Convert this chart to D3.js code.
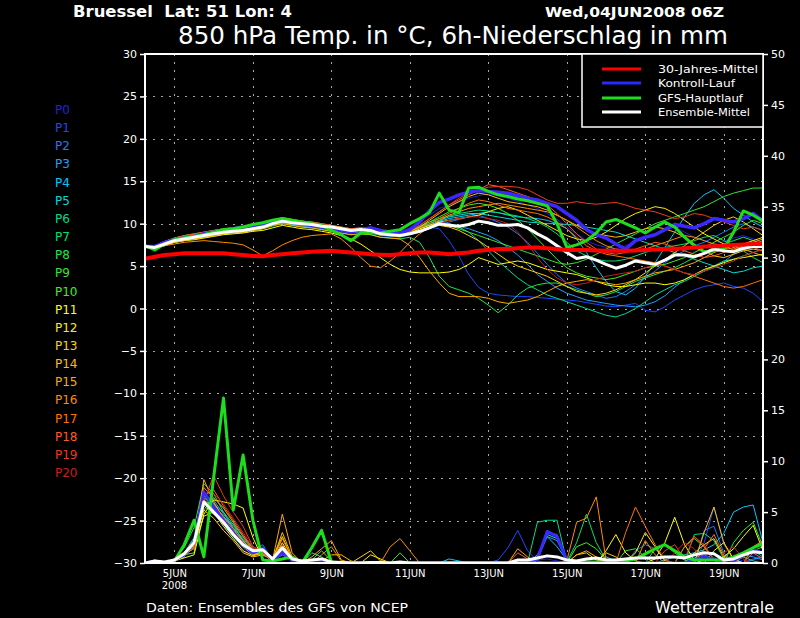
<!DOCTYPE html>
<html>
<head>
<meta charset="utf-8">
<script src="https://cdn.jsdelivr.net/npm/d3@7"></script>
<style>
  body { margin: 0; background: #000; }
  svg { display: block; }
  text { font-family: "DejaVu Sans", sans-serif; fill: #fff; white-space: pre; }
</style>
</head>
<body>
<svg id="chart" width="800" height="618"></svg>
<script>
// run start and 6h steps
var startTime = Date.UTC(2008, 5, 4, 6);
var stepHours = 6;

var tickDays = [5, 7, 9, 11, 13, 15, 17, 19];
var tickLabels = ["5JUN", "7JUN", "9JUN", "11JUN", "13JUN", "15JUN", "17JUN", "19JUN"];
var tempTicks = [-30, -25, -20, -15, -10, -5, 0, 5, 10, 15, 20, 25, 30];
var precTicks = [0, 5, 10, 15, 20, 25, 30, 35, 40, 45, 50];

var memberNames = ["P0","P1","P2","P3","P4","P5","P6","P7","P8","P9","P10",
  "P11","P12","P13","P14","P15","P16","P17","P18","P19","P20"];
var memberColors = ["#2020e0","#1e46ff","#1e78ff","#1ea0ff","#00c8ff","#00dcd2","#00dc8c",
  "#00e070","#1ee650","#32e632","#3cf01e","#ffff00","#ffeb00","#ffd200","#ffbe00",
  "#ffaa00","#ff8c00","#ff7300","#ff5a28","#eb3c1e","#c81e1e"];

// 850 hPa temperature, degC
var climTemp = [5.85,6.1,6.3,6.4,6.5,6.5,6.5,6.5,6.5,6.4,
  6.3,6.2,6.15,6.3,6.4,6.5,6.6,6.7,6.75,6.8,
  6.7,6.6,6.5,6.4,6.35,6.3,6.4,6.5,6.6,6.6,
  6.5,6.4,6.5,6.6,6.8,6.9,7.0,7.0,7.1,7.2,
  7.2,7.1,7.0,6.9,6.9,6.9,6.85,6.8,6.8,6.8,
  6.85,6.9,6.95,7.0,7.05,7.1,7.2,7.3,7.35,7.4,
  7.5,7.55,7.6,7.6];
var meanTemp = [7.3,7.2,7.6,8.0,8.2,8.4,8.6,8.8,9.0,9.1,
  9.2,9.4,9.6,10.0,10.3,10.1,10.0,9.9,9.7,9.6,
  9.4,9.2,9.3,9.2,8.8,8.7,8.6,8.8,9.1,9.5,
  10.0,9.8,9.7,9.9,10.3,10.1,9.8,9.8,9.9,9.5,
  8.8,8.2,7.4,6.6,5.9,6.1,5.7,5.2,4.75,5.1,
  5.6,5.4,5.2,5.7,6.3,6.3,6.1,6.5,7.0,6.8,
  6.7,7.1,7.3,7.3];
var controlTemp = [7.3,7.3,7.8,8.1,8.3,8.5,8.8,9.0,9.2,9.4,
  9.6,9.7,9.9,10.3,10.5,10.2,10.0,9.8,9.6,9.4,
  9.2,9.0,9.3,9.5,9.2,9.0,8.9,9.3,10.2,11.5,
  12.5,12.9,13.4,13.7,13.9,13.8,13.7,13.6,13.3,13.0,
  12.8,12.4,12.0,11.2,10.4,9.3,8.7,8.3,7.6,7.0,
  8.0,8.4,8.7,9.3,9.9,9.7,9.5,10.0,10.6,10.4,
  10.2,10.6,11.2,10.3];
var gfsTemp = [7.4,6.9,7.6,8.1,8.3,8.5,8.7,9.0,9.3,9.4,
  9.6,9.9,10.1,10.4,10.6,10.4,10.2,10.0,9.8,9.2,
  8.7,8.0,8.9,8.9,8.9,9.1,9.3,10.0,10.6,11.3,
  13.6,11.6,11.3,14.2,14.3,13.8,13.4,13.2,12.9,12.7,
  12.4,12.1,10.0,7.2,7.5,8.0,8.9,10.2,10.5,10.0,
  9.5,8.9,9.6,10.2,9.6,8.4,7.4,6.7,6.8,7.0,
  9.0,11.5,11.0,10.3];

var memberTemps = [
  [7.3,7.4,7.9,8.2,8.5,8.7,8.9,9.1,9.3,9.4, 9.5,9.7,9.9,10.2,10.5,10.4,10.2,10.1,9.9,9.7,
   9.5,9.3,9.4,9.6,9.3,9.1,9.0,9.5,10.3,11.0, 11.8,12.2,12.6,13.0,13.3,13.5,13.3,13.0,12.6,12.2,
   11.8,11.2,10.5,9.6,8.8,8.0,7.5,7.2,7.0,7.4, 7.9,8.3,8.8,9.2,9.6,9.0,8.4,8.0,7.6,7.9, 8.3,8.6,8.2,7.8],
  [7.3,7.2,7.5,7.9,8.1,8.3,8.5,8.7,8.9,9.0, 9.1,9.3,9.5,9.9,10.1,10.0,9.8,9.7,9.5,9.3,
   9.2,9.0,9.1,9.0,8.7,8.6,8.5,8.8,9.2,9.6, 9.4,8.0,6.2,4.0,2.5,1.8,1.6,1.5,1.4,1.4,
   1.3,1.2,1.1,1.0,0.9,0.7,0.5,0.3,0.2,0.4, 0.6,-0.2,-0.4,0.2,1.0,1.6,2.2,2.6,2.8,3.0, 2.6,2.4,1.8,0.8],
  [7.3,7.1,7.4,7.8,8.0,8.2,8.4,8.6,8.8,8.9, 9.0,9.2,9.4,9.8,10.1,9.9,9.7,9.6,9.4,9.2,
   9.1,8.9,9.0,8.9,8.6,8.5,8.4,8.7,9.0,9.4, 9.8,10.2,10.5,10.8,11.0,10.6,10.2,9.6,8.8,7.8,
   6.5,5.2,4.0,3.0,2.4,2.0,1.6,1.2,1.4,2.0, 2.8,3.6,4.4,5.4,6.2,6.8,7.4,7.8,8.4,9.0, 9.6,10.0,9.6,9.2],
  [7.3,7.3,7.7,8.1,8.3,8.5,8.7,8.9,9.1,9.2, 9.3,9.5,9.7,10.1,10.4,10.2,10.1,10.0,9.8,9.6,
   9.4,9.2,9.3,9.2,8.9,8.8,8.7,9.0,9.5,9.9, 10.2,10.0,9.7,9.4,9.0,8.6,8.0,7.2,6.3,5.2,
   4.0,3.2,2.4,1.8,1.4,1.0,0.8,0.6,0.4,0.3, 0.2,0.4,0.8,1.5,2.5,3.4,4.0,4.4,4.8,5.5, 6.4,7.0,7.6,8.0],
  [7.3,7.2,7.6,8.0,8.3,8.5,8.7,8.9,9.1,9.2, 9.3,9.5,9.7,10.1,10.3,10.2,10.0,9.9,9.7,9.6,
   9.4,9.2,9.3,9.1,8.8,8.7,8.6,8.9,9.4,9.8, 10.3,10.6,10.8,11.0,11.2,11.4,11.3,11.0,10.8,10.7,
   10.6,10.4,10.0,9.4,8.2,6.6,4.8,3.2,2.0,1.6, 2.4,3.8,5.4,7.2,9.0,10.8,12.4,13.4,14.0,13.0, 11.8,11.0,10.2,9.6],
  [7.3,7.3,7.8,8.1,8.4,8.6,8.8,9.0,9.2,9.3, 9.4,9.6,9.8,10.2,10.4,10.3,10.1,10.0,9.9,9.7,
   9.5,9.3,9.4,9.3,9.0,8.9,8.8,9.1,9.6,10.0, 10.4,10.8,11.0,11.2,11.2,11.0,10.8,10.6,10.4,10.2,
   10.1,10.0,10.0,9.9,9.8,9.6,9.4,9.2,9.0,8.6, 8.2,7.8,7.4,7.0,6.6,6.2,5.8,5.4,5.0,4.6, 4.2,4.4,4.8,5.0],
  [7.3,7.2,7.5,7.9,8.1,8.3,8.5,8.7,8.9,9.0, 9.1,9.3,9.5,9.9,10.2,10.0,9.8,9.7,9.5,9.4,
   9.2,9.0,9.1,9.0,8.7,8.6,8.5,8.8,9.2,9.6, 9.9,10.0,9.6,9.0,8.0,6.8,5.6,4.6,3.6,2.8,
   2.2,1.6,1.2,0.8,0.4,0.0,-0.4,-0.8,-1.0,-0.6, 0.0,0.8,1.6,2.2,2.8,3.2,3.8,4.4,5.0,5.6, 5.8,6.2,6.6,7.0],
  [7.3,7.4,7.9,8.3,8.6,8.8,9.0,9.2,9.4,9.5, 9.6,9.8,10.0,10.4,10.7,10.5,10.3,10.2,10.0,9.8,
   9.6,9.4,9.5,9.4,9.1,9.0,8.9,9.2,9.7,10.2, 10.6,10.9,11.2,11.4,11.6,11.5,11.3,11.1,10.9,10.6,
   10.2,9.6,8.8,7.8,6.8,6.2,5.8,5.6,5.6,5.8, 6.2,6.6,7.0,7.2,7.4,7.6,8.0,8.4,8.6,8.0, 7.4,6.8,6.0,5.4],
  [7.3,7.1,7.4,7.8,8.0,8.2,8.4,8.6,8.8,8.9, 9.0,9.2,9.4,9.7,10.0,9.8,9.6,9.5,9.3,9.1,
   8.9,8.7,8.8,8.7,8.4,8.3,8.2,8.4,7.8,6.0, 3.8,2.6,2.2,1.8,1.2,0.4,-0.5,0.4,1.6,2.4,
   2.8,3.0,3.0,2.6,2.2,1.8,1.4,1.6,2.0,2.6, 3.2,3.6,4.0,4.4,4.8,5.4,6.0,6.6,7.2,7.6, 8.0,8.4,8.0,7.6],
  [7.3,7.3,7.7,8.1,8.4,8.6,8.8,9.0,9.2,9.3, 9.4,9.6,9.8,10.2,10.5,10.3,10.1,10.0,9.8,9.6,
   9.4,9.2,9.3,9.2,8.9,8.8,8.7,9.0,9.4,9.8, 10.0,9.8,9.4,9.0,8.6,8.2,7.8,7.4,7.0,6.6,
   6.2,5.8,5.4,5.2,5.4,5.8,6.4,7.0,7.6,8.2, 8.8,9.4,10.0,10.4,10.8,11.2,11.6,12.0,12.6,13.2, 13.6,13.9,14.2,14.2],
  [7.3,7.4,7.8,8.2,8.5,8.7,8.9,9.1,9.3,9.4, 9.5,9.7,9.9,10.3,10.6,10.4,10.2,10.1,9.9,9.7,
   9.5,9.3,9.4,9.3,9.0,8.9,8.8,9.1,9.6,10.2, 10.8,11.4,11.8,12.2,12.4,12.2,11.8,11.2,10.4,9.4,
   8.2,7.0,5.8,4.8,4.2,3.8,3.6,3.4,3.6,4.0, 4.4,4.8,5.0,5.2,5.6,6.0,6.6,7.2,7.8,8.4, 9.0,9.8,10.4,10.0],
  [7.3,7.2,7.5,7.8,8.0,8.1,8.3,8.5,8.7,8.8, 8.9,9.1,9.2,9.5,9.8,9.6,9.4,9.3,9.1,8.9,
   8.6,8.2,7.6,6.8,6.0,5.2,4.6,4.3,4.2,4.2, 4.2,4.3,4.6,5.2,6.0,5.6,5.2,5.4,5.6,5.4,
   5.0,4.6,4.4,4.2,4.0,3.6,3.2,2.8,2.6,2.6, 2.8,3.0,3.0,2.8,3.0,3.4,4.0,4.6,5.0,5.4, 5.8,6.0,6.2,6.4],
  [7.3,7.3,7.7,8.1,8.3,8.5,8.7,8.9,9.1,9.2, 9.3,9.5,9.7,10.1,10.4,10.2,10.0,9.9,9.7,9.5,
   9.3,9.1,9.2,9.1,8.8,8.7,8.6,8.9,9.4,9.8, 10.2,10.4,10.6,10.8,11.0,11.4,11.8,12.0,11.6,11.0,
   10.4,9.8,9.2,8.6,8.2,8.0,8.4,9.0,9.8,10.6, 11.2,11.6,12.0,11.8,11.2,10.4,9.6,8.8,8.2,7.6, 7.2,7.6,8.0,8.4],
  [7.3,7.2,7.6,8.0,8.2,8.4,8.6,8.8,9.0,9.1, 9.2,9.4,9.6,10.0,10.3,10.1,9.9,9.8,9.6,9.4,
   9.2,9.0,9.1,9.0,8.7,8.6,8.5,8.8,9.2,9.6, 9.8,9.6,9.2,8.6,8.0,7.2,6.4,5.6,5.0,4.6,
   4.2,3.8,3.2,2.6,2.0,1.8,1.6,1.8,2.2,2.8, 3.4,4.2,5.0,5.8,6.6,7.4,8.2,9.0,9.8,10.4, 10.8,10.2,9.4,8.6],
  [7.3,7.4,7.9,8.3,8.5,8.7,8.9,9.1,9.3,9.4, 9.5,9.7,9.9,10.3,10.6,10.4,10.2,10.1,9.9,9.7,
   9.5,9.3,9.4,9.3,9.0,8.9,8.8,9.1,9.6,10.4, 11.2,12.0,12.6,13.2,13.6,13.4,13.0,12.6,12.4,12.2,
   12.0,11.6,11.0,10.4,9.8,9.2,8.8,8.6,8.4,8.6, 9.0,9.4,9.6,9.4,9.0,8.4,7.6,6.8,6.2,6.0, 6.4,6.8,7.0,6.8],
  [7.3,7.1,7.4,7.8,8.0,8.2,8.4,8.6,8.8,8.9, 9.0,9.2,9.4,9.8,10.0,9.8,9.6,9.5,9.3,9.1,
   8.9,8.7,8.8,8.7,8.4,8.3,8.2,7.4,6.0,4.4, 3.0,1.8,1.4,1.4,1.4,1.2,0.8,0.6,0.8,1.0,
   1.4,2.0,2.6,3.0,3.2,3.4,3.2,3.0,2.8,3.0, 3.4,3.8,4.2,4.4,4.6,5.0,5.4,6.0,6.6,7.0, 7.4,7.0,6.6,6.2],
  [7.3,7.2,7.4,7.6,7.8,7.9,8.0,7.9,7.8,7.7, 7.5,6.9,6.2,6.8,7.5,8.0,8.4,8.6,8.7,8.8,
   8.2,7.2,6.0,5.0,4.8,5.6,6.6,7.8,8.8,9.6, 10.4,11.0,11.4,11.8,12.0,12.2,12.4,12.2,12.0,11.8,
   11.6,11.4,11.0,10.4,9.6,8.8,8.0,7.4,7.0,6.8, 6.8,7.0,7.4,7.8,8.2,8.6,8.4,8.0,7.6,7.2, 7.0,7.4,7.8,8.2],
  [7.3,7.3,7.7,8.1,8.4,8.6,8.8,9.0,9.2,9.3, 9.4,9.6,9.8,10.2,10.5,10.3,10.1,10.0,9.8,9.6,
   9.4,9.2,9.3,9.2,8.9,8.8,8.7,9.0,9.5,10.0, 10.6,11.2,11.8,12.4,12.8,12.6,12.2,11.8,11.6,11.4,
   11.2,10.8,10.2,9.4,8.4,7.4,6.8,6.4,6.2,6.0, 5.8,5.6,5.4,5.0,4.6,4.2,3.8,3.4,3.0,2.6, 2.4,2.6,3.0,3.4],
  [7.3,7.4,7.9,8.3,8.6,8.8,9.0,9.2,9.4,9.5, 9.6,9.8,10.0,10.4,10.7,10.5,10.3,10.2,10.0,9.8,
   9.6,9.4,9.5,9.4,9.1,9.0,8.9,9.2,9.8,10.6, 11.4,12.2,12.8,13.4,14.0,14.6,14.4,14.0,13.6,13.2,
   12.8,12.2,11.2,10.0,8.8,7.8,7.0,6.6,6.4,6.6, 7.0,7.4,7.8,7.6,7.2,6.8,6.4,6.0,6.2,6.6, 7.0,7.4,7.2,6.8],
  [7.3,7.3,7.8,8.2,8.5,8.7,8.9,9.1,9.3,9.4, 9.5,9.7,9.9,10.3,10.6,10.4,10.2,10.1,9.9,9.7,
   9.5,9.3,9.4,9.3,9.0,8.9,8.8,9.2,9.8,10.6, 11.4,12.2,13.0,13.6,14.0,14.3,14.4,14.4,14.3,14.0,
   13.4,12.8,12.4,12.4,12.6,12.4,12.3,12.4,12.5,12.2, 11.8,11.6,11.4,11.0,10.6,10.8,11.2,11.0,10.6,10.2, 9.8,9.4,9.6,9.2],
  [7.3,7.2,7.6,8.0,8.2,8.4,8.6,8.8,9.0,9.1, 9.2,9.4,9.6,10.0,10.3,10.1,9.9,9.8,9.6,9.4,
   9.2,9.0,9.1,9.0,8.7,8.6,8.5,8.8,9.2,9.6, 10.0,10.4,10.6,10.8,10.8,10.6,10.4,10.0,9.0,7.6,
   6.0,4.6,3.6,3.0,2.8,3.0,3.4,3.8,4.0,4.2, 4.4,4.8,5.2,5.0,4.6,4.2,4.0,4.4,4.8,5.2, 5.6,6.2,6.6,7.0]
];

// 6h precipitation, mm
var meanPrec = [0,0.2,0.1,0.3,0.9,2.0,6.0,5.0,4.0,2.8,1.8,1.2,1.3,0.4,1.5,0.4,
  0.2,0.3,0.4,0.1,0.05,0,0,0.05,0.05,0,0.1,0,0,0,0,0,
  0,0,0,0,0,0,0.3,0.3,0.5,0.7,0.6,0.3,0.2,0.4,0.5,0.3,
  0.3,0.4,0.5,0.5,0.5,0.6,0.6,0.5,0.8,1.0,0.9,0.3,0.4,0.8,1.1,1.0];
var controlPrec = [0,0.2,0,0.3,0.8,2.0,7.0,5.5,4.2,3.0,1.8,1.0,1.4,0.3,1.0,0.2,
  0,0,0.2,0,0,0,0,0,0,0,0,0,0,0,0,0,
  0,0,0,0,0,0,0,0,0.4,3.1,2.6,0.3,0,0,0,0,
  0,0,0,0,0,0,0,0,0.3,0.6,0.4,0,0.2,0.8,1.3,1.0];
var gfsPrec = [0,0,0,0.2,1.8,4.2,0.6,8.4,16.2,5.2,10.6,4.2,0.3,0.2,0.4,0.6,
  0,1.5,3.2,0.1,0,0,0,0,0,0,0,0,0,0,0,0,
  0,0,0,0,0,0,0,0,0,0,0,0,0.1,0.1,0.1,0.1,
  0.1,0.2,0.4,0.9,1.4,1.8,1.2,0.6,0.3,0.3,0.3,0.3,0.6,1.0,1.5,1.9];

var memberPrecs = [
  [0,0.2,0,0.3,0.7,1.5,7.5,6.0,4.2,2.6,1.4,0.9,1.0,0.2,0.8,0.2, 0,0.1,0.3,0,0,0,0,0,0,0,0,0,0,0,0,0,
   0,0,0,0,0,0,0,0,0.3,0.4,0.2,0,0,0,0,0, 0,0,0,0,0,0,0,0,0.4,0.6,0.3,0,0,0.3,0.8,0.5],
  [0,0.1,0,0.2,0.6,1.8,7.0,5.2,3.6,2.4,1.2,0.8,1.6,0.3,1.0,0.2, 0,0,0.2,0,0,0,0,0,0,0,0,0,0,0,0,0,
   0,0,0,0,0.3,1.5,3.2,1.2,0.2,0,0,0,0,0,0,0, 0,0,0,0,0,0,0,0,0,2.0,5.5,1.8,0.4,0,0.3,0.6],
  [0,0.2,0,0.3,0.9,2.2,6.4,5.6,4.6,3.2,2.0,1.2,1.8,0.3,1.6,0.3, 0,0.2,0.4,0,0,0,0,0,0,0,0,0,0,0,0,0,
   0,0,0,0,0,0,0,0,0.4,3.0,2.8,0.5,0,0,0,0, 0,0,1.2,1.8,1.4,0.3,0,0,0,3.2,3.6,1.0,0,0,0.4,0.6],
  [0,0.1,0,0.4,1.0,2.4,5.8,6.2,4.8,3.6,2.2,1.0,1.2,0.2,1.0,0.2, 0,0,0.3,0,0,0,0,0,0,0,0,0,0,0,0,0,
   0,0,0,0,0,0,0,0,0.3,2.6,2.2,0.3,0,0,0,0, 0,0,0,0,0,0,0,0,0.5,0.8,0.4,0,0,0.8,0.6,0.3],
  [0,0.2,0,0.3,0.8,2.0,6.6,5.4,4.4,3.8,2.6,1.4,1.0,0.2,1.2,0.2, 0,0.1,0.2,0,0,0,0,0,0,0,0,0,0,0,0,0.4,
   0.2,0,0,0,0,0,0,0,0.8,2.6,1.6,0.3,0,0,0,0, 0,0,0,0,0,0.3,0.6,0.8,1.0,1.3,1.8,2.9,5.0,5.5,5.7,2.0],
  [0,0.1,0,0.2,0.7,1.9,6.0,5.8,5.0,3.4,2.4,1.2,1.1,0.3,1.1,0.2, 0,0,0.2,0.1,0,0,0,0,0,0,0,0,0,0,0,0,
   0,0,0,0,0,0,0,0,0.5,2.8,2.4,0.4,0,0,0,0.6, 0.2,0,0,0,0,0,0,0,0,0,0,0,0.4,0.6,0.2,0],
  [0,0.3,0,0.3,0.9,2.1,5.2,6.4,5.4,4.0,2.6,1.6,1.2,0.3,1.3,0.3, 0,1.0,0.6,0,0,0,0,0,0,0,0,0,0,0,0,0,
   0,0,0,0,0,0,0,0,4.0,4.2,4.2,0.1,0,0,0,0, 0,0,0,0,0,0,0,0,0,0,0,0,0.3,0.8,1.2,0.6],
  [0,0.2,0,0.3,1.0,2.5,6.8,5.0,3.8,2.6,1.6,1.0,1.0,0.2,0.9,0.2, 0,0,0.3,0,0,0,0,0,0,0,0,0,0,0,0,0,
   0,0,0,0,0,0,0,0,0,0,0,0.1,2.0,4.8,2.0,0.3, 0,0,0,0,0,0,0,0,2.8,2.9,2.2,0.4,0,0,0,0],
  [0,0.2,0,0.4,1.5,3.5,7.8,6.8,5.0,3.8,2.2,1.0,1.0,0.3,0.8,0.2, 0,0,0.3,0,0,0,0,0,0,0,0,0,0,0,0,0,
   0,0,0,0,0,0,0,0,0,0,0,0,0,0,0,0, 0,0,0,0,1.4,1.8,1.0,0.3,0,0,0,0,2.0,3.2,4.0,1.6],
  [0,0.1,0,0.3,0.6,2.0,5.6,4.8,3.8,2.8,1.8,1.0,1.2,0.2,1.0,0.2, 0,0.3,1.2,0.2,0,0,0,0,0,0,1.0,0,0,0,0,0,
   0,0,0,0,0,0,0,0,0,0,0,0,0,0,0,0, 0,1.2,1.4,0.6,0,0,0,1.6,2.4,1.6,0.4,0,0,0,0,0],
  [0,0.2,0,0.3,0.8,1.0,6.0,5.2,4.2,3.0,1.8,1.0,1.1,0.3,1.5,0.3, 0,0,0.2,0,0,0,0,0,0,0,0,0,0,0,0,0,
   0,0,0,0,0,0,0,0,0,0,0,0,1.6,2.0,1.4,0.3, 0,0,0,0,0,0,0,0,0,0,0,0,0,0.6,1.2,1.6],
  [0,0.2,0,0.2,0.5,0.8,4.8,6.2,6.0,5.8,5.4,2.5,0.4,0.1,1.2,0.2, 0,0,0.2,0,0,0,0,0,0,0,0,0,0,0,0,0,
   0,0,0,0,0,0,0,0,0,0,0,0,0,0,0,1.2, 2.8,1.0,0.2,0,0.4,2.0,4.5,1.8,0.3,0,0,0.6,1.4,2.6,3.7,1.2],
  [0,0.1,0,0.3,0.7,1.6,4.6,5.0,3.6,2.4,1.2,0.7,1.0,0.2,2.0,0.3, 0,0,0.3,0,0,0,0,0.8,0.4,0,0,0,0,0,0,0,
   0,0,0,0,0,0,0,0,0,0,0,0,0,0,0,0, 0,0,1.0,3.0,1.6,0.2,0,0,0,0,1.2,2.0,0.4,0,0,0],
  [0,0.2,0,0.3,0.8,1.9,5.2,4.4,3.2,2.2,1.0,0.6,0.8,0.4,2.6,0.4, 0,0,0.2,0,0,0,0.6,1.2,0.2,0,0,0,0,0,0,0,
   0,0,0,0,0,0,0,0,0,0,0,0,0.8,1.0,0.3,0, 0,0,0,0,0,0,0,0,1.0,1.8,2.4,0.6,0,0,0,0],
  [0,0.2,0,0.3,0.9,1.4,6.2,5.4,4.2,2.8,1.6,0.8,1.0,0.3,3.0,0.6, 0,0,0.2,0.8,0.8,0.2,0,0,0,0,0,0,0,0,0,0,
   0,0,0,0,0,0,0,0,0,0,0,0,0,0,0,1.0, 0.6,0,0,0,0,0,0,0,0,3.0,5.5,2.0,0.3,0,0,0],
  [0,0.2,0,0.4,0.9,1.8,8.2,6.0,4.4,3.2,2.2,1.0,0.8,0.3,4.8,1.0, 0,0.6,1.4,2.2,0.3,0,0,0,0,0,0,0,0,0,0,0,
   0,0,0,0,0,0,1.4,0.6,0,0,0,0,0.8,1.2,0.6,0, 0,0,0,0,0,0,0,0,0,0,0,0,0,0,0,0],
  [0,0.1,0,0.3,0.8,1.7,7.0,5.8,4.6,3.4,2.0,1.0,0.9,0.2,2.4,0.4, 0,0,0.8,1.6,0.2,0,0,0,0,1.6,2.4,1.2,0,0,0,0,
   0,0,0,0,0,0,0,0,0,0,0,0.2,4.0,4.4,6.5,0.3, 0,0,0,2.2,0.8,0,0,0,0,0,0,0,0,0,1.6,2.2],
  [0,0.2,0,0.3,0.9,2.0,7.4,6.4,5.4,4.0,2.6,1.2,1.1,0.2,1.8,0.3, 0,0,0.3,0,0,0,0,0,0,0,0,0,0,0,0,0,
   0,0,0,0,0,0,0,0,0,0,0,0,0,0,0,0, 0,3.0,5.5,3.6,1.8,0.3,0,0,0,1.4,2.8,0.8,0,0,0,0],
  [0,0.2,0,0.3,1.0,2.2,6.6,7.2,5.6,4.2,2.8,1.4,1.2,0.3,1.0,0.2, 0,0,0.2,0,0,0,0,0,0,0,0,0,0,0,0,0,
   0,0,0,0,0,0,1.0,0.4,0,0,0,0,0,0,0,0, 0,0,0,0,0,0,0,1.6,2.6,1.6,0.3,0,0,0,1.0,0.4],
  [0,0.3,0,0.4,1.1,1.4,6.0,8.6,6.6,5.0,3.6,1.6,1.0,0.2,1.1,0.2, 0,0,0.3,0,0,0,0,0,0,0,0,0,0,0,0,0,
   0,0,0,0,0,0,0,0,0,0,0,0,0,0,0,0, 0,0,0,0,0,1.2,1.8,0.4,2.6,1.8,0.3,0,0,0,0,0],
  [0,0.2,0,0.3,0.8,2.0,5.6,6.8,5.8,4.4,3.0,1.6,1.1,0.3,1.2,0.2, 0,0,0.2,0,0,0,0,0,0,0,0,0,0,0,0,0,
   0,0,0,0,0,0,0,0,0,0,0,0,0,0,0,0, 0,0,0,0,0,0,1.0,2.0,1.4,0,0,1.0,1.6,0.4,0,0]
];

var legendItems = ["30-Jahres-Mittel", "Kontroll-Lauf", "GFS-Hauptlauf", "Ensemble-Mittel"];
var legendColors = ["#ff0000", "#2828ff", "#1edc1e", "#ffffff"];

var svg = d3.select("#chart");
var L = 145, R = 763, T = 54, B = 563;

svg.append("rect").attr("width", 800).attr("height", 618).attr("fill", "#000");

var times = climTemp.map(function(d, i){ return new Date(startTime + i*stepHours*3600e3); });
var x = d3.scaleUtc().domain([times[0], times[times.length-1]]).range([L, R]);
var yT = d3.scaleLinear().domain([-30, 30]).range([B, T]);
var yP = d3.scaleLinear().domain([0, 50]).range([B, T]);
var tickDates = tickDays.map(function(d){ return new Date(Date.UTC(2008, 5, d)); });

// grid
var grid = svg.append("g").attr("stroke", "#a8a8a8").attr("stroke-width", 1).attr("stroke-dasharray", "2,6");
grid.selectAll(".gh").data(tempTicks.slice(1, -1)).enter().append("line")
  .attr("x1", L).attr("x2", R).attr("y1", function(d){ return Math.round(yT(d))+0.5; })
  .attr("y2", function(d){ return Math.round(yT(d))+0.5; });
grid.selectAll(".gv").data(tickDates).enter().append("line")
  .attr("y1", T).attr("y2", B).attr("x1", function(d){ return Math.round(x(d))+0.5; })
  .attr("x2", function(d){ return Math.round(x(d))+0.5; });

// axes
var axL = svg.append("g").attr("transform", "translate(" + L + ",0)")
  .call(d3.axisLeft(yT).tickValues(tempTicks).tickSize(5).tickPadding(3));
var axR = svg.append("g").attr("transform", "translate(" + R + ",0)")
  .call(d3.axisRight(yP).tickValues(precTicks).tickSize(5).tickPadding(3));
var axB = svg.append("g").attr("transform", "translate(0," + B + ")")
  .call(d3.axisBottom(x).tickValues(tickDates).tickSize(0)
    .tickFormat(function(d, i){ return tickLabels[i]; }));
[axL, axR, axB].forEach(function(a){
  a.select(".domain").remove();
  a.selectAll("line").attr("stroke", "#fff").attr("stroke-width", 1.5);
  a.selectAll("text").attr("fill", "#fff").style("font-size", "11px").attr("font-family", "DejaVu Sans, sans-serif");
});
axB.selectAll("text").style("font-size", "10px").attr("y", 6).attr("dy", "0.8em");
svg.append("text").attr("x", x(tickDates[0])).attr("y", 589).attr("text-anchor", "middle")
  .style("font-size", "10px").text("2008");

// plotted series
svg.append("defs").append("clipPath").attr("id", "plot")
  .append("rect").attr("x", L).attr("y", T).attr("width", R-L).attr("height", B-T);
var plot = svg.append("g").attr("clip-path", "url(#plot)");
var lineT = d3.line().x(function(d, i){ return x(times[i]); }).y(function(d){ return yT(d); });
var lineP = d3.line().x(function(d, i){ return x(times[i]); }).y(function(d){ return yP(d); });

memberTemps.forEach(function(s, k){
  plot.append("path").attr("d", lineP(memberPrecs[k])).attr("fill", "none")
    .attr("stroke", memberColors[k]).attr("stroke-width", 1);
  plot.append("path").attr("d", lineT(s)).attr("fill", "none")
    .attr("stroke", memberColors[k]).attr("stroke-width", 1);
});
function thick(d, gen, color, w){
  plot.append("path").attr("d", gen(d)).attr("fill", "none").attr("stroke", color)
    .attr("stroke-width", w).attr("stroke-linejoin", "round");
}
thick(controlPrec, lineP, "#3c28ff", 3);
thick(controlTemp, lineT, "#3c28ff", 3.5);
thick(gfsPrec, lineP, "#1edc1e", 3);
thick(gfsTemp, lineT, "#1edc1e", 3);
thick(meanPrec, lineP, "#ffffff", 3);
thick(meanTemp, lineT, "#ffffff", 3);
thick(climTemp, lineT, "#ff0000", 4);

// frame
svg.append("rect").attr("x", L).attr("y", T).attr("width", R-L).attr("height", B-T)
  .attr("fill", "none").attr("stroke", "#fff").attr("stroke-width", 2);

// legend
var lg = svg.append("g");
lg.append("rect").attr("x", 582).attr("y", T).attr("width", R-582).attr("height", 73)
  .attr("fill", "#000").attr("stroke", "#fff").attr("stroke-width", 1.5);
var rowsY = [69, 83, 98, 112];
var rowsW = [100, 77, 85, 92];
legendItems.forEach(function(t, i){
  lg.append("line").attr("x1", 602).attr("x2", 641).attr("y1", rowsY[i]).attr("y2", rowsY[i])
    .attr("stroke", legendColors[i]).attr("stroke-width", 3);
  lg.append("text").attr("x", 658).attr("y", rowsY[i] + 4).style("font-size", "11px")
    .attr("textLength", rowsW[i]).attr("lengthAdjust", "spacingAndGlyphs").text(t);
});

// member labels
memberNames.forEach(function(n, i){
  svg.append("text").attr("x", 55).attr("y", 114 + i*18.15).style("font-size", "12px")
    .style("fill", memberColors[i]).text(n);
});

// titles
svg.append("text").attr("x", 73).attr("y", 17).style("font-size", "15px").style("font-weight", "bold")
  .attr("textLength", 219).attr("lengthAdjust", "spacingAndGlyphs").text("Bruessel  Lat: 51 Lon: 4");
svg.append("text").attr("x", 545).attr("y", 17).style("font-size", "14.5px").style("font-weight", "bold")
  .attr("textLength", 179).attr("lengthAdjust", "spacingAndGlyphs").text("Wed,04JUN2008 06Z");
svg.append("text").attr("x", 178).attr("y", 44).style("font-size", "25px")
  .attr("textLength", 550).attr("lengthAdjust", "spacingAndGlyphs")
  .text("850 hPa Temp. in \u00b0C, 6h-Niederschlag in mm");
svg.append("text").attr("x", 146).attr("y", 612).style("font-size", "13px")
  .attr("textLength", 262).attr("lengthAdjust", "spacingAndGlyphs").text("Daten: Ensembles des GFS von NCEP");
svg.append("text").attr("x", 655).attr("y", 613).style("font-size", "15px")
  .attr("textLength", 119).attr("lengthAdjust", "spacingAndGlyphs").text("Wetterzentrale");
</script>
</body>
</html>
